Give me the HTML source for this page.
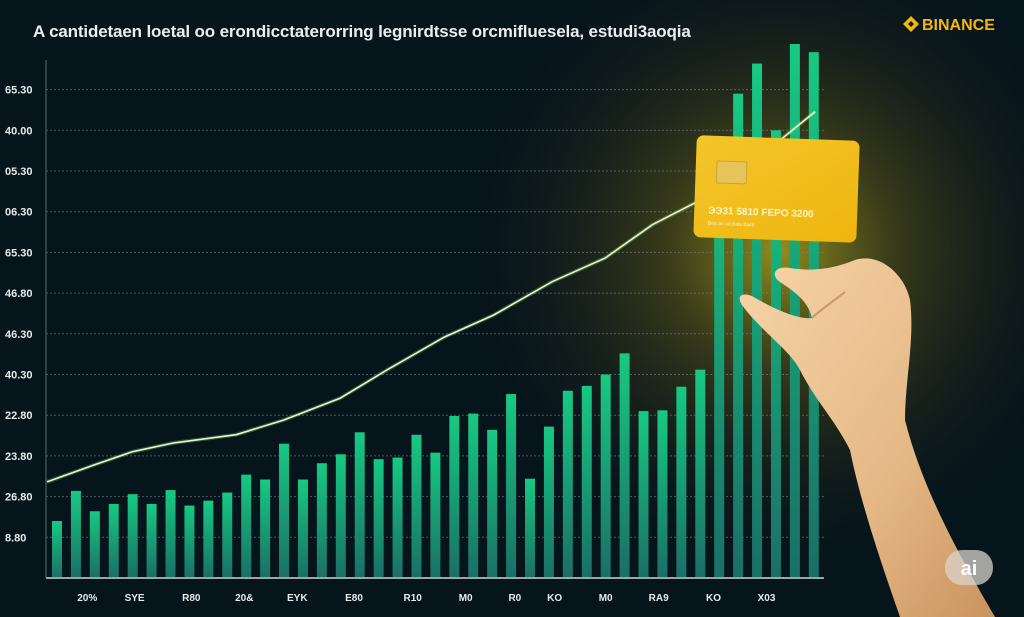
<!DOCTYPE html>
<html><head><meta charset="utf-8"><style>
html,body{margin:0;padding:0;width:1024px;height:617px;overflow:hidden;background:#06141b}
svg{display:block}
text{font-family:"Liberation Sans",sans-serif}
</style></head><body>
<svg id="chart" width="1024" height="617" viewBox="0 0 1024 617">
<defs>
<radialGradient id="glow" cx="780" cy="250" r="330" gradientUnits="userSpaceOnUse">
<stop offset="0" stop-color="#9a941c" stop-opacity="0.95"/>
<stop offset="0.35" stop-color="#4d4a1a" stop-opacity="0.7"/>
<stop offset="1" stop-color="#06141b" stop-opacity="0"/>
</radialGradient>
<linearGradient id="barg" x1="0" y1="0" x2="0" y2="1">
<stop offset="0" stop-color="#17c982"/>
<stop offset="1" stop-color="#1a6f66"/>
</linearGradient>
<linearGradient id="cardg" x1="0" y1="0" x2="1" y2="1">
<stop offset="0" stop-color="#f3c62a"/>
<stop offset="1" stop-color="#efb50f"/>
</linearGradient>
<linearGradient id="skin" x1="0" y1="0" x2="1" y2="1">
<stop offset="0" stop-color="#f6d4a8"/>
<stop offset="0.6" stop-color="#e5b886"/>
<stop offset="1" stop-color="#c9935e"/>
</linearGradient>
</defs>
<rect width="1024" height="617" fill="#06141b"/>
<rect width="1024" height="617" fill="url(#glow)"/>
<text x="33" y="37" fill="#e9eef0" font-size="17" font-weight="bold" letter-spacing="-0.15">A cantidetaen loetal oo erondicctaterorring legnirdtsse orcmifluesela, estudi3aoqia</text>
<g>
<path d="M911 16 l8 8 -8 8 -8 -8z M911 21 l3 3 -3 3 -3 -3z" fill="#f0b90b" fill-rule="evenodd"/>
<text x="922" y="30" fill="#f0b90b" font-size="16" font-weight="bold">BINANCE</text>
</g>
<g id="grid"></g>
<g id="bars"></g>
<g id="line"></g>
<g id="ylabels"></g>
<g id="xlabels"></g>
<line x1="46" y1="578" x2="824" y2="578" stroke="#9aa6aa" stroke-width="2"/>
<line x1="46" y1="60" x2="46" y2="578" stroke="#5d6a70" stroke-width="1"/>
<g transform="rotate(2 777 190)">
<rect x="695" y="138" width="163" height="102" rx="7" fill="url(#cardg)"/>
<rect x="716" y="163" width="30" height="22" rx="2" fill="#e6c45a" stroke="#c9a33a" stroke-width="1"/>
<text x="709" y="216" fill="#fff3c0" font-size="10" font-weight="bold">ЭЭ31 5810 FEPO 3200</text>
<text x="709" y="227" fill="#fff3c0" font-size="5">Bea an ua Bala        8a4a</text>
</g>
<g>
<path d="M900 617 C880 560 860 500 850 450 C835 420 815 400 800 370 C790 350 760 330 742 305 C736 296 742 292 752 296 C775 310 800 320 812 318 C808 300 792 290 780 282 C770 275 775 265 790 268 C815 272 835 268 855 260 C880 252 905 275 910 300 C915 340 905 380 905 420 C920 480 950 540 995 617 Z" fill="url(#skin)"/>
<path d="M812 318 C820 310 835 300 845 292" stroke="#c89868" stroke-width="2" fill="none"/>
</g>
<g>
<rect x="945" y="550" width="48" height="35" rx="17" fill="#d8d3cc" opacity="0.75"/>
<text x="969" y="575" text-anchor="middle" fill="#fff" font-size="20" font-weight="bold">ai</text>
</g>
</svg>
<script>
const values=[7,10.7,8.2,9.1,10.3,9.1,10.8,8.9,9.5,10.5,12.7,12.1,16.5,12.1,14.1,15.2,17.9,14.6,14.8,17.6,15.4,19.9,20.2,18.2,22.6,12.2,18.6,23.0,23.6,25.0,27.6,20.5,20.6,23.5,25.6,54,59.5,63.2,55,65.6,64.6];
const lineX=[0,2.5,4.5,6.7,10,12.5,15.5,18,21,23.6,26.7,29.5,32,34.6,37.8,40.6];
const lineY=[11.8,13.9,15.5,16.6,17.6,19.4,22.1,25.6,29.6,32.3,36.4,39.3,43.4,46.5,52,57.3];
const yTicks=[5,10,15,20,25,30,35,40,45,50,55,60];
const yTickLabels=["8.80","26.80","23.80","22.80","40.30","46.30","46.80","65.30","06.30","05.30","40.00","65.30"];
const xLabels=["20%","SYE","R80","20&","EYK","E80","R10","M0","R0","KO","M0","RA9","KO","X03"];
const xLabelPos=[1.6,4.1,7.1,9.9,12.7,15.7,18.8,21.6,24.2,26.3,29,31.8,34.7,37.5];
const NS="http://www.w3.org/2000/svg";
const y=v=>578-v*8.14;
const x=i=>57+i*18.92;
function mk(t,p,a){const e=document.createElementNS(NS,t);for(const k in a)e.setAttribute(k,a[k]);p.appendChild(e);return e;}
const grid=document.getElementById('grid'),ylab=document.getElementById('ylabels');
yTicks.forEach((t,i)=>{
const l=mk('line',grid,{x1:46,x2:824,y1:y(t),y2:y(t),stroke:'#7c878b','stroke-width':1,'stroke-dasharray':'2 2',opacity:0.6});


const tx=mk('text',ylab,{x:5,y:y(t)+4,fill:'#e6ebec','font-size':11,'font-weight':'bold'});
tx.textContent=yTickLabels[i];


});
const bars=document.getElementById('bars');
values.forEach((v,i)=>{
const r=mk('rect',bars,{x:x(i)-5,y:y(v),width:10,height:578-y(v),fill:'url(#barg)'});


});
const lg=document.getElementById('line');
let d=lineX.map((v,i)=>(i?'L':'M')+(x(v)-10).toFixed(1)+' '+y(lineY[i]).toFixed(1)).join(' ');
const pg=mk('path',lg,{d:d,fill:'none',stroke:'#9cf27a','stroke-width':4,opacity:0.25});


const p=mk('path',lg,{d:d,fill:'none',stroke:'#e4f7c8','stroke-width':1.6});


const xl=document.getElementById('xlabels');
xLabels.forEach((s,i)=>{
const t=mk('text',xl,{x:x(xLabelPos[i]),y:601,fill:'#e6ebec','font-size':10,'font-weight':'bold','text-anchor':'middle'});
t.textContent=s;


});
</script>
</body></html>
